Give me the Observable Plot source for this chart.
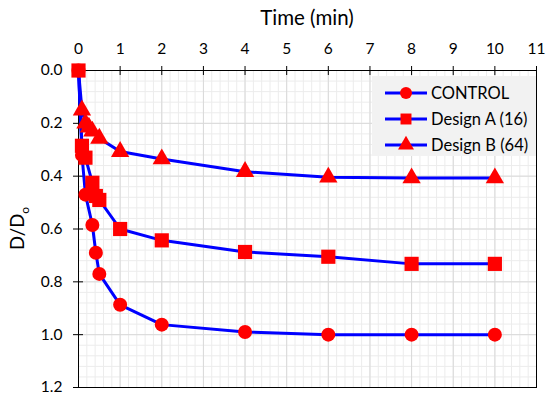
<!DOCTYPE html>
<html><head><meta charset="utf-8">
<script src="https://cdn.jsdelivr.net/npm/d3@7"></script>
<script src="https://cdn.jsdelivr.net/npm/@observablehq/plot@0.6"></script>
<style>
body{margin:0;background:#fff;}
#chart{width:548px;height:394px;}
</style>
</head><body><div id="chart"></div>
<script>
// ---- data ----
const seriesNames = ["CONTROL", "Design A (16)", "Design B (64)"];
const timeControl = [0, 0.083, 0.167, 0.333, 0.417, 0.5, 1, 2, 4, 6, 8, 10];
const dControl    = [0, 0.32, 0.47, 0.585, 0.69, 0.77, 0.887, 0.962, 0.99, 1.0, 1.0, 1.0];
const timeDesignA = [0, 0.083, 0.167, 0.333, 0.417, 0.5, 1, 2, 4, 6, 8, 10];
const dDesignA    = [0, 0.285, 0.33, 0.425, 0.475, 0.49, 0.6, 0.643, 0.687, 0.705, 0.732, 0.732];
const timeDesignB = [0, 0.083, 0.167, 0.25, 0.333, 0.5, 1, 2, 4, 6, 8, 10];
const dDesignB    = [0, 0.15, 0.2, 0.215, 0.23, 0.257, 0.307, 0.335, 0.383, 0.404, 0.407, 0.407];
const xTicks = [0,1,2,3,4,5,6,7,8,9,10,11];
const yTicks = [0,0.2,0.4,0.6,0.8,1.0,1.2];
const xMinor = d3.range(0, 55).map(i => i * 0.2);
const yMinor = d3.range(0, 31).map(i => i * 0.04);
const symbols = ["circle", "square", "triangle"];
const radii = [7, 8, 6.8];
const drawOrder = [2, 0, 1];

const rows = [];
[[timeControl, dControl], [timeDesignA, dDesignA], [timeDesignB, dDesignB]].forEach(([t, d], i) => {
  t.forEach((v, j) => rows.push({series: seriesNames[i], t: v, d: d[j], k: i}));
});

const W = 548, H = 394, mL = 78, mR = 12, mT = 70, mB = 7;
const pw = W - mL - mR, ph = H - mT - mB;
const FONT = "Lato, 'Open Sans', sans-serif";

const marks = [
  Plot.ruleX(xMinor, {x: d => d, stroke: "#ececec"}),
  Plot.ruleY(yMinor, {y: d => d, stroke: "#ececec"}),
  Plot.ruleX(xTicks, {x: d => d, stroke: "#d9d9d9"}),
  Plot.ruleY(yTicks, {y: d => d, stroke: "#d9d9d9"}),
  Plot.frame({stroke: "black"}),
  Plot.axisX({anchor: "top", ticks: xTicks, tickSize: 5, tickPadding: 12, label: null, fontSize: 15.5}),
  Plot.axisY({anchor: "left", ticks: yTicks, tickSize: 5, tickPadding: 11, tickFormat: d3.format(".1f"), label: null, fontSize: 15.5}),
  Plot.tickX(xTicks, {x: d => d, stroke: "black", insetBottom: ph - 5}),
  Plot.tickY(yTicks, {y: d => d, stroke: "black", insetRight: pw - 5})
];
seriesNames.forEach((s, i) => {
  marks.push(Plot.line(rows.filter(r => r.k === i), {x: "t", y: "d", stroke: "#0000ff", strokeWidth: 3}));
});
drawOrder.forEach(i => {
  // the reference shows no triangle marker at the origin (hidden under the square)
  const pts = rows.filter(r => r.k === i && !(i === 2 && r.t === 0));
  marks.push(Plot.dot(pts, {x: "t", y: "d", symbol: () => symbols[i], r: radii[i], fill: "#ff0000", stroke: "none"}));
});

const svg = Plot.plot({
  width: W, height: H,
  marginLeft: mL, marginRight: mR, marginTop: mT, marginBottom: mB,
  style: {fontFamily: FONT, fontSize: "15px", color: "#000", background: "#fff"},
  x: {domain: [0, 11]},
  y: {domain: [0, 1.2], reverse: true},
  symbol: {type: "identity"},
  marks
});
document.getElementById("chart").appendChild(svg);

const s = d3.select(svg);
// title
s.append("text").attr("x", mL + pw / 2).attr("y", 25).attr("text-anchor", "middle")
  .attr("font-size", 20.5).attr("font-family", FONT).attr("fill", "#000").text("Time (min)");
// y label with subscript
const yl = s.append("text").attr("transform", `translate(24,${mT + ph / 2}) rotate(-90)`)
  .attr("text-anchor", "middle").attr("font-size", 18.5).attr("font-family", FONT).attr("fill", "#000");
yl.append("tspan").text("D/D");
yl.append("tspan").attr("font-size", 12).attr("dy", 5).text("o");

// legend
const lg = s.append("g").attr("transform", "translate(372,76)");
lg.append("rect").attr("width", 164).attr("height", 80).attr("fill", "#f2f2f2");
seriesNames.forEach((name, i) => {
  const y = 17 + i * 26;
  lg.append("line").attr("x1", 13).attr("x2", 55).attr("y1", y).attr("y2", y).attr("stroke", "#0000ff").attr("stroke-width", 3);
  const sym = [d3.symbolCircle, d3.symbolSquare, d3.symbolTriangle][i];
  const sizes = [Math.PI * 36, 120, 110];
  lg.append("path").attr("d", d3.symbol(sym, sizes[i])()).attr("transform", `translate(34,${y})`).attr("fill", "#ff0000");
  lg.append("text").attr("x", 59).attr("y", y).attr("dy", "0.36em").attr("text-anchor", "start").attr("font-size", 16.5)
    .attr("font-family", FONT).attr("fill", "#000").text(name);
});
</script>
</body></html>
